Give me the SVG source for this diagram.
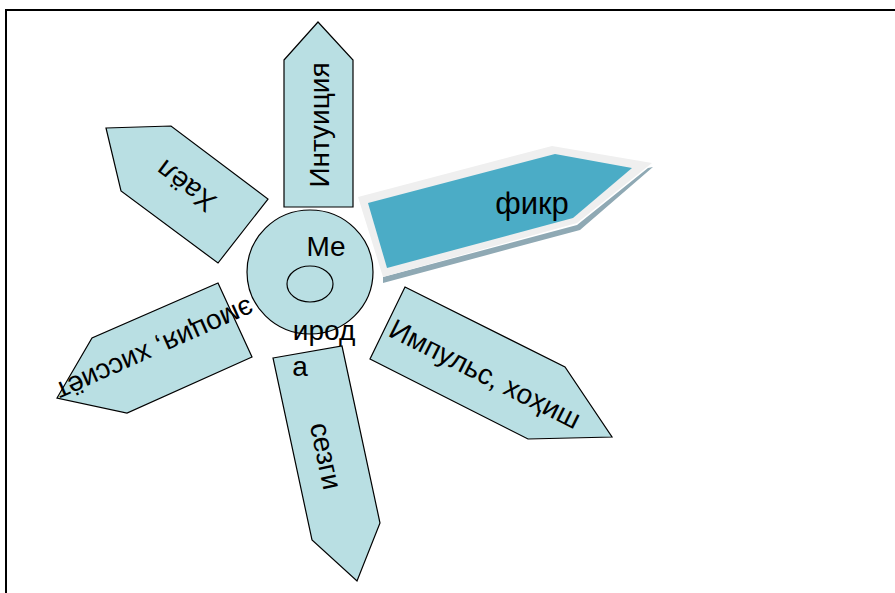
<svg xmlns="http://www.w3.org/2000/svg" width="895" height="593" viewBox="0 0 895 593">
<style>
.pet{fill:#B9DFE3;stroke:#000;stroke-width:1.2}
.t{font-family:"Liberation Sans",Arial,sans-serif;font-size:28px;fill:#000;text-anchor:middle;dominant-baseline:central}
</style>
<rect x="0" y="0" width="895" height="593" fill="#fff"/>
<rect x="6" y="10" width="900" height="600" fill="none" stroke="#000" stroke-width="2"/>
<g id="intuition">
<polygon class="pet" points="284,60 318,22 353,60 353,207 284,207"/>
<text class="t" transform="translate(319,125) rotate(-90)">Интуиция</text>
</g>
<g id="hayol">
<polygon class="pet" points="106,128 171,126 268,199 218,263 121,191"/>
<text class="t" transform="translate(186,186) rotate(217)">Хаёл</text>
</g>
<g id="fikr">
<polygon points="383,283 580,230 653,167 648,168 577,225 383,277" fill="#8FA9B4"/>
<polygon points="358,197 552,146 652,163 577,223 383,277" fill="#EFEFEF"/>
<polygon points="368,203 555,154 632,168 573,218 387,268" fill="#4BACC6"/>
<text class="t" x="532" y="203" style="font-size:31px">фикр</text>
</g>
<g id="impuls">
<polygon class="pet" points="405,287 565,367 612,437 528,439 370,359"/>
<text class="t" transform="translate(485,374) rotate(26.6)">Импульс, хоҳиш</text>
</g>
<g id="sezgi">
<polygon class="pet" points="273,358 342,346 380,523 357,581 312,540"/>
<text class="t" transform="translate(326,456) rotate(78)">сезги</text>
</g>
<g id="emotsiya">
<polygon class="pet" points="218,283 252,357 127,413 57,398 92,338"/>
<text class="t" transform="translate(155,350) rotate(156)">эмоция, хиссиёт</text>
</g>
<g id="center">
<ellipse class="pet" cx="310" cy="272" rx="63" ry="62"/>
<ellipse cx="310" cy="284" rx="23" ry="18" fill="none" stroke="#000" stroke-width="1.2"/>
<text class="t" x="326" y="246">Ме</text>
<text class="t" x="324" y="330">ирод</text>
<text class="t" x="300" y="366">а</text>
</g>
<g id="connectors"></g>
</svg>
